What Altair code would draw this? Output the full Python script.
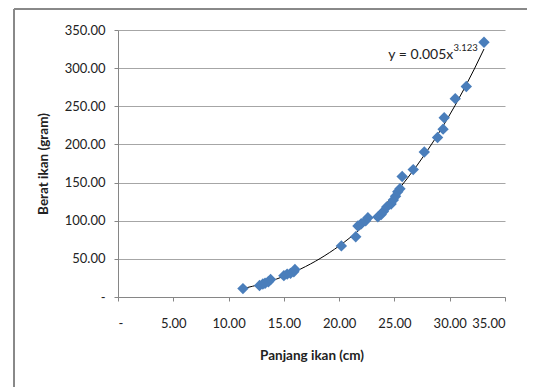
import altair as alt
import pandas as pd

# Fish length (cm) and weight (gram)
panjang = [11.3, 12.8, 13.1, 13.3, 13.6, 13.8, 15.0, 15.3, 15.6, 15.9, 16.0,
           20.2, 21.5, 21.7, 22.0, 22.4, 22.6, 23.5, 23.8, 24.0, 24.3, 24.7,
           24.9, 25.1, 25.3, 25.5, 25.7, 26.7, 27.7, 28.9, 29.4, 29.5, 30.5,
           31.5, 33.1]
berat = [11, 15, 17, 18, 20, 23, 28, 30, 31, 33, 36,
         67, 79, 93, 96, 100, 104, 105, 108, 112, 118, 122,
         127, 132, 138, 142, 158, 167, 190, 209, 220, 235, 260,
         276, 334]

x_ticks = [0, 5, 10, 15, 20, 25, 30, 35]
y_ticks = [0, 50, 100, 150, 200, 250, 300, 350]

eq_main = ["y = 0.005x"]
eq_main_pos = [(24.45, 317)]
eq_sup = ["3.123"]
eq_sup_pos = [(30.35, 326)]

df = pd.DataFrame({"x": panjang, "y": berat})
eq_df = pd.DataFrame({"t": eq_main, "x": [p[0] for p in eq_main_pos], "y": [p[1] for p in eq_main_pos]})
sup_df = pd.DataFrame({"t": eq_sup, "x": [p[0] for p in eq_sup_pos], "y": [p[1] for p in eq_sup_pos]})

label_expr = "datum.value == 0 ? '-' : format(datum.value, '.2f')"

xscale = alt.Scale(domain=[0, 35], nice=False, zero=True)
yscale = alt.Scale(domain=[0, 350], nice=False, zero=True)

xaxis = alt.Axis(title="Panjang ikan (cm)", values=x_ticks, labelExpr=label_expr,
                 grid=False, tickSize=4, labelPadding=16, titlePadding=18,
                 labelOverlap=False, domainColor="#868686", tickColor="#868686")
yaxis = alt.Axis(title="Berat ikan (gram)", values=y_ticks, labelExpr=label_expr,
                 grid=True, gridColor="#a6a6a6", tickSize=4, labelPadding=9,
                 titlePadding=14, labelOverlap=False,
                 domainColor="#868686", tickColor="#868686")

xenc = alt.X("x:Q", scale=xscale, axis=xaxis)
yenc = alt.Y("y:Q", scale=yscale, axis=yaxis)

points = alt.Chart(df).mark_point(shape="diamond", filled=True, size=130,
                                  color="#4a7ebb", opacity=1).encode(x=xenc, y=yenc)

trend = alt.Chart(df).transform_regression("x", "y", method="pow").mark_line(
    color="black", strokeWidth=1).encode(x=xenc, y=yenc)

eq_text = alt.Chart(eq_df).mark_text(align="left", baseline="middle", fontSize=14,
                                     font="Lato", color="#222222").encode(
    x=xenc, y=yenc, text="t:N")
sup_text = alt.Chart(sup_df).mark_text(align="left", baseline="middle", fontSize=9.5,
                                       font="Lato", color="#222222").encode(
    x=xenc, y=yenc, text="t:N")

frame_left = alt.Chart(df).mark_rule(color="#888888", strokeWidth=1).encode(
    x=alt.value(-104), y=alt.value(-21), y2=alt.value(400))
frame_top = alt.Chart(df).mark_rule(color="#888888", strokeWidth=1).encode(
    x=alt.value(-104), x2=alt.value(500), y=alt.value(-21))

chart = alt.layer(frame_left, frame_top, trend, points, eq_text, sup_text).properties(
    width=387, height=267,
    autosize=alt.AutoSizeParams(type="none"),
    padding={"left": 110, "top": 22, "right": 22, "bottom": 92},
).configure(font="Lato").configure_view(stroke=None).configure_axis(
    labelFont="Lato", labelFontSize=13, labelColor="#222222",
    titleFont="Lato", titleFontSize=13.5, titleFontWeight="bold", titleColor="#222222",
)

chart.save("out.html", embed_options={"renderer": "svg", "actions": False})
